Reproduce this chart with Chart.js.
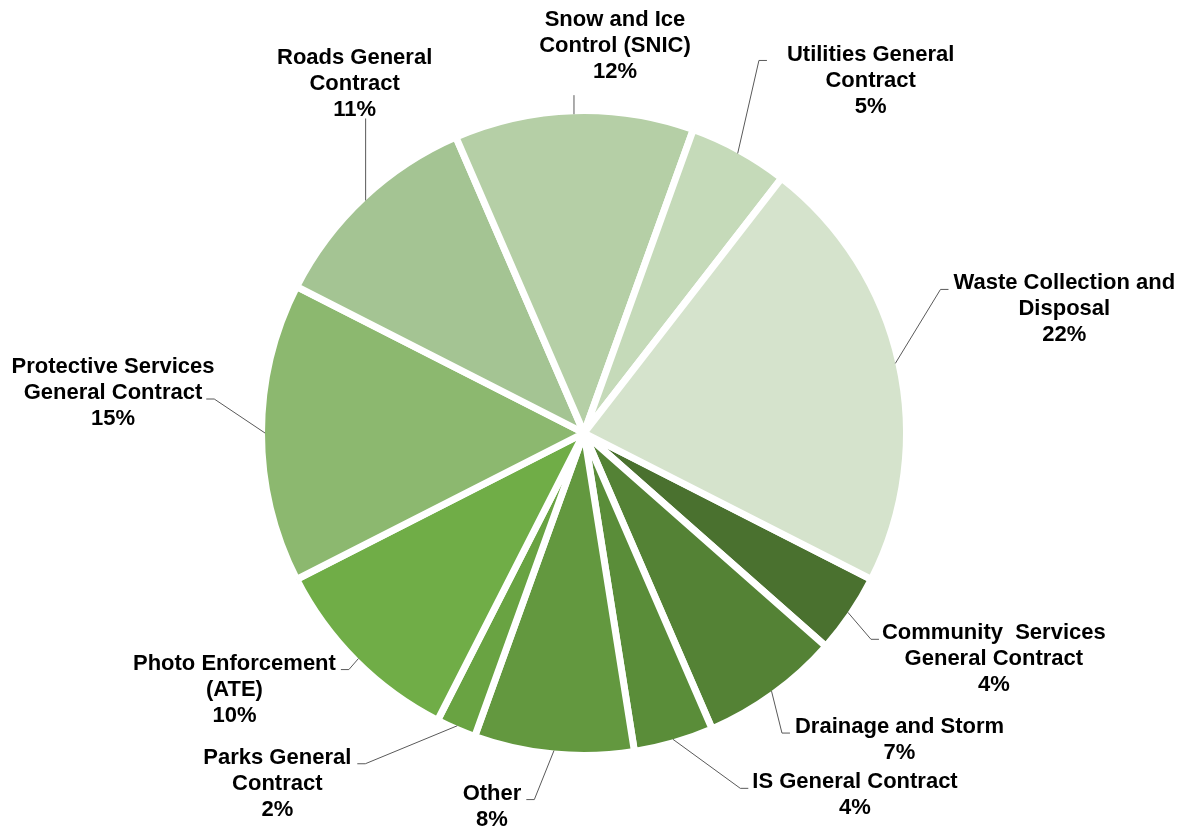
<!DOCTYPE html>
<html>
<head>
<meta charset="utf-8">
<script src="https://cdn.jsdelivr.net/npm/chart.js@4"></script>
<style>
  html, body { margin: 0; padding: 0; background: #fff; }
  #wrap { width: 1184px; height: 830px; }
</style>
</head>
<body>
<div id="wrap"><canvas id="myChart" width="1184" height="830"></canvas></div>
<script>
var categories = [
  "Community  Services General Contract",
  "Drainage and Storm",
  "IS General Contract",
  "Other",
  "Parks General Contract",
  "Photo Enforcement (ATE)",
  "Protective Services General Contract",
  "Roads General Contract",
  "Snow and Ice Control (SNIC)",
  "Utilities General Contract",
  "Waste Collection and Disposal"
];

// how each category name wraps in its label
var labelLines = [
  ["Community  Services", "General Contract"],
  ["Drainage and Storm"],
  ["IS General Contract"],
  ["Other"],
  ["Parks General", "Contract"],
  ["Photo Enforcement", "(ATE)"],
  ["Protective Services", "General Contract"],
  ["Roads General", "Contract"],
  ["Snow and Ice", "Control (SNIC)"],
  ["Utilities General", "Contract"],
  ["Waste Collection and", "Disposal"]
];

var values = [4, 7, 4, 8, 2, 10, 15, 11, 12, 5, 22];

var colors = ['#4a712f', '#548235', '#5a8d39', '#63983f', '#69a342', '#70ad47',
              '#8cb86f', '#a4c493', '#b5cfa6', '#c5dab9', '#d5e3cc'];

// where each label sits relative to the outer edge of its slice,
// and which side of the label the leader line joins
var labelOffsets = [
  { dx: 146, dy: 21, side: 'left', line: 0, gap: 3 },
  { dx: 128, dy: 36, side: 'left', line: 0, gap: 5 },
  { dx: 182, dy: 43, side: 'left', line: 0, gap: 4 },
  { dx: -62, dy: 43, side: 'right', line: 0, gap: 5 },
  { dx: -180, dy: 32, side: 'right', line: 0, gap: 6 },
  { dx: -124, dy: 5, side: 'right', line: 0, gap: 5 },
  { dx: -152, dy: -66, side: 'right', line: 1, gap: 4 },
  { dx: -11, dy: -143, side: 'bottom', gap: 9 },
  { dx: 41, dy: -94, side: 'bottom', gap: 23 },
  { dx: 133, dy: -99, side: 'left', line: 0, gap: 20 },
  { dx: 169, dy: -80, side: 'left', line: 0, gap: 5 }
];

var lineH = 26;
var BORDER = 7;

var sliceLabels = {
  id: 'sliceLabels',
  afterDatasetsDraw: function(chart) {
    var ctx = chart.ctx;
    var meta = chart.getDatasetMeta(0);
    ctx.save();
    ctx.font = 'bold 22px "Liberation Sans", Arial, sans-serif';
    ctx.textAlign = 'center';
    ctx.textBaseline = 'middle';
    meta.data.forEach(function(arc, i) {
      var p = arc.getProps(['x', 'y', 'startAngle', 'endAngle', 'outerRadius'], true);
      var mid = (p.startAngle + p.endAngle) / 2;
      var r = p.outerRadius - BORDER / 2;
      var ax = p.x + Math.cos(mid) * r;
      var ay = p.y + Math.sin(mid) * r;
      var o = labelOffsets[i];
      var lines = labelLines[i].concat([values[i] + '%']);
      var cx = ax + o.dx, y1 = ay + o.dy;

      ctx.fillStyle = '#000';
      lines.forEach(function(t, k) {
        ctx.fillText(t, cx, y1 + k * lineH);
      });

      // leader line
      ctx.beginPath();
      ctx.strokeStyle = '#595959';
      ctx.lineWidth = 1;
      ctx.moveTo(ax, ay);
      if (o.side === 'bottom') {
        ctx.lineTo(ax, y1 + (lines.length - 1) * lineH + o.gap);
      } else {
        var ly = y1 + o.line * lineH + 6;
        var half = ctx.measureText(lines[o.line]).width / 2;
        var ex = o.side === 'left' ? cx - half - o.gap : cx + half + o.gap;
        var bx = o.side === 'left' ? ex - 8 : ex + 8;
        ctx.lineTo(bx, ly);
        ctx.lineTo(ex, ly);
      }
      ctx.stroke();
    });
    ctx.restore();
  }
};

var ctx = document.getElementById('myChart').getContext('2d');

var myChart = new Chart(ctx, {
  type: 'pie',
  data: {
    labels: categories,
    datasets: [{
      data: values,
      backgroundColor: colors,
      borderColor: '#ffffff',
      borderWidth: BORDER
    }]
  },
  options: {
    responsive: false,
    animation: false,
    rotation: 117,
    layout: { padding: { top: 107, bottom: 71, left: 0, right: 16 } },
    plugins: {
      legend: { display: false },
      tooltip: { enabled: false }
    }
  },
  plugins: [sliceLabels]
});
</script>
</body>
</html>
